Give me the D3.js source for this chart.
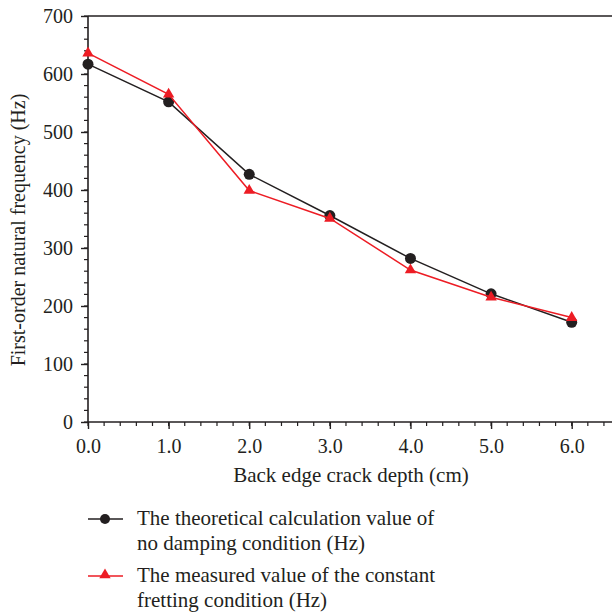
<!DOCTYPE html>
<html lang="en">
<head>
  <meta charset="UTF-8">
  <title>First-order natural frequency</title>
  <script src="https://d3js.org/d3.v7.min.js"></script>
  <style>
    body { margin: 0; padding: 0; background: #fff; }
    svg { display: block; }
    text { font-family: "Liberation Serif", "DejaVu Serif", serif; fill: #231f20; }
  </style>
</head>
<body>
  <svg width="612" height="614"></svg>
  <script>
    const depths = [0, 1, 2, 3, 4, 5, 6];
    const theoretical = [617, 552, 427, 356, 282, 221, 172];
    const measured = [636, 565, 399, 351, 262, 215, 180];
    const yTicks = [0, 100, 200, 300, 400, 500, 600, 700];
    const xTicks = [0, 1, 2, 3, 4, 5, 6];
    const legendLabels = [
      ["The theoretical calculation value of", "no damping condition (Hz)"],
      ["The measured value of the constant", "fretting condition (Hz)"]
    ];

    const svg = d3.select("svg");
    const mLeft = 88, mTop = 16, mRight = 612, mBottom = 422;

    const x = d3.scaleLinear().domain([0, 6.5]).range([mLeft, mRight]);
    const y = d3.scaleLinear().domain([0, 700]).range([mBottom, mTop]);

    const black = "#231f20", red = "#ed1c24";

    // minor ticks
    const xMinor = d3.range(0, 6.41, 0.2);
    svg.append("g").selectAll("line").data(xMinor).join("line")
      .attr("x1", d => x(d)).attr("x2", d => x(d))
      .attr("y1", mBottom).attr("y2", mBottom + 4)
      .attr("stroke", black).attr("stroke-width", 1.2);
    const yMinor = d3.range(0, 701, 20);
    svg.append("g").selectAll("line").data(yMinor).join("line")
      .attr("y1", d => y(d)).attr("y2", d => y(d))
      .attr("x1", mLeft).attr("x2", mLeft - 4)
      .attr("stroke", black).attr("stroke-width", 1.2);

    // axes
    const xAxis = svg.append("g").attr("transform", `translate(0,${mBottom})`)
      .call(d3.axisBottom(x).tickValues(xTicks).tickFormat(d3.format(".1f")).tickSize(7).tickPadding(10));
    const yAxis = svg.append("g").attr("transform", `translate(${mLeft},0)`)
      .call(d3.axisLeft(y).tickValues(yTicks).tickSize(7).tickPadding(8));
    [xAxis, yAxis].forEach(a => {
      a.select(".domain").attr("stroke", black).attr("stroke-width", 1.6);
      a.selectAll(".tick line").attr("stroke", black).attr("stroke-width", 1.4);
      a.selectAll(".tick text").attr("font-size", 20).attr("fill", black);
    });
    xAxis.select(".domain").attr("d", `M${mLeft},0H${mRight}`);
    yAxis.select(".domain").attr("d", `M0,${mBottom}V${mTop}`);

    // top border
    svg.append("line").attr("x1", mLeft).attr("x2", mRight).attr("y1", mTop).attr("y2", mTop)
      .attr("stroke", black).attr("stroke-width", 1.6);

    // axis titles
    svg.append("text").attr("x", 351).attr("y", 482).attr("text-anchor", "middle")
      .attr("font-size", 21).text("Back edge crack depth (cm)");
    svg.append("text").attr("transform", "translate(25,230) rotate(-90)")
      .attr("text-anchor", "middle").attr("font-size", 20).text("First-order natural frequency (Hz)");

    const line = d3.line().x((d, i) => x(depths[i])).y(d => y(d));
    const tri = d3.symbol().type(d3.symbolTriangle).size(56);

    svg.append("path").datum(theoretical).attr("d", line)
      .attr("fill", "none").attr("stroke", black).attr("stroke-width", 1.5);
    svg.append("g").selectAll("circle").data(theoretical).join("circle")
      .attr("cx", (d, i) => x(depths[i])).attr("cy", d => y(d)).attr("r", 5.5).attr("fill", black);

    svg.append("path").datum(measured).attr("d", line)
      .attr("fill", "none").attr("stroke", red).attr("stroke-width", 1.5);
    svg.append("g").selectAll("path").data(measured).join("path")
      .attr("d", tri).attr("fill", red)
      .attr("transform", (d, i) => `translate(${x(depths[i])},${y(d)})`);

    // legend
    const lg = svg.append("g");
    legendLabels.forEach((lines, k) => {
      const ly = 519 + k * 57;
      const col = k === 0 ? black : red;
      lg.append("line").attr("x1", 88).attr("x2", 123).attr("y1", ly).attr("y2", ly)
        .attr("stroke", col).attr("stroke-width", 1.5);
      if (k === 0) lg.append("circle").attr("cx", 105).attr("cy", ly).attr("r", 5).attr("fill", col);
      else lg.append("path").attr("d", tri).attr("fill", col).attr("transform", `translate(105,${ly - 1})`);
      lines.forEach((t, j) => {
        lg.append("text").attr("x", 137).attr("y", ly + 6 + j * 25).attr("font-size", 21).text(t);
      });
    });
  </script>
</body>
</html>
